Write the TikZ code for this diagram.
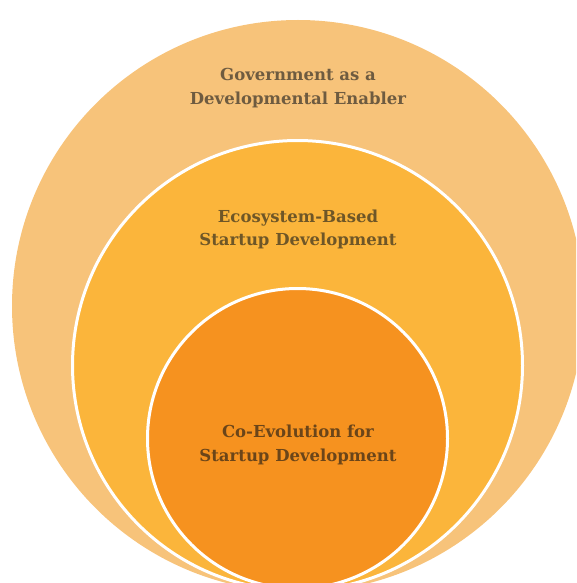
\documentclass[tikz,border=0pt]{standalone}
\usepackage{fontspec}
\setmainfont{DejaVu Serif}
\usetikzlibrary{positioning}
\definecolor{ringOuter}{HTML}{F7C37A}
\definecolor{ringMiddle}{HTML}{FBB53B}
\definecolor{ringInner}{HTML}{F6921F}
\definecolor{textOuter}{HTML}{6E5B40}
\definecolor{textMiddle}{HTML}{6E5627}
\definecolor{textInner}{HTML}{6B4519}
\tikzset{
  ring/.style={circle, draw=white, line width=3pt, inner sep=0pt},
  ringtext/.style={font=\bfseries\fontsize{16.5}{23.5}\selectfont, align=center}
}

\begin{document}
\begin{tikzpicture}[x=1pt,y=-1pt]
  \useasboundingbox (0,0) rectangle (576,583);
  \begin{scope}
    \clip (0,0) rectangle (576,583);
    % three nested circles
    \node[ring, draw=none, fill=ringOuter, minimum size=572pt] (gov) at (298,306) {};
    \node[ring, fill=ringMiddle, minimum size=450pt] (eco) at (297.5,365.5) {};
    \node[ring, fill=ringInner, minimum size=300pt] (coevo) at (297.5,438.5) {};
  \end{scope}
  % labels
  \node[ringtext, text=textOuter] (govtext) at (298,88) {Government as a\\Developmental Enabler};
  \node[ringtext, text=textMiddle] (ecotext) at (298,229.5) {Ecosystem-Based\\Startup Development};
  \node[ringtext, text=textInner] (coevotext) at (298,445) {Co-Evolution for\\Startup Development};
\end{tikzpicture}
\end{document}
